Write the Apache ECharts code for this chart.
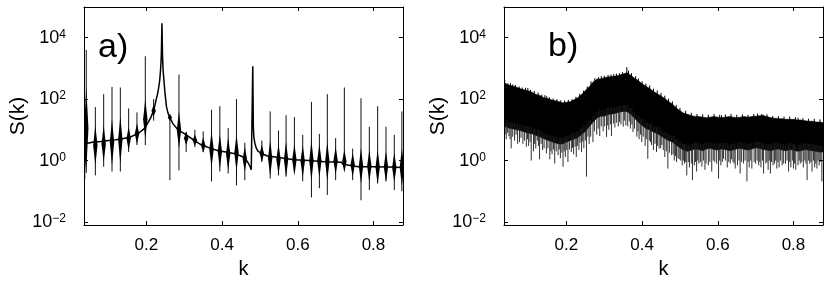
<!DOCTYPE html>
<html>
<head>
<meta charset="utf-8">
<script src="https://cdn.jsdelivr.net/npm/echarts@6/dist/echarts.min.js"></script>
<style>html,body{margin:0;padding:0;background:#fff}#c{width:830px;height:284px}</style>
</head>
<body>
<div id="c"></div>
<script>
// ---------- axes ----------
const kMin = 0.035, kMax = 0.878;
const sMin = 0.0079433, sMax = 100000;
const xTicks = [0.2, 0.4, 0.6, 0.8];
const yTicks = [0.01, 1, 100, 10000];
const panelLabels = ['a)', 'b)'];
const xName = 'k', yName = 'S(k)';

// ---------- panel a: smooth background curve ----------
const aBaseK = [0.035,0.045,0.06,0.08,0.10,0.12,0.14,0.16,0.18,0.195,0.205,0.212,0.218,0.222,0.226,0.229,0.232,0.235,0.237,0.2385,0.2395,0.241,0.2425,0.244,0.246,0.249,0.253,0.257,0.262,0.27,0.28,0.288,0.30,0.31,0.33,0.346,0.37,0.39,0.41,0.434,0.45,0.46,0.465,0.47,0.474,0.477,0.4795,0.481,0.4825,0.484,0.487,0.49,0.495,0.50,0.51,0.52,0.55,0.59,0.63,0.67,0.715,0.719,0.723,0.76,0.80,0.84,0.878];
const aBaseS = [3.5,3.7,4.0,4.2,4.5,4.8,5.2,6.0,7.9,11.2,17.8,26,40,60,100,141,224,398,794,1585,3162,29500,2512,891,447,158,56,35,25,16,11.2,9.3,7.6,6.3,4.2,3.2,2.5,2.1,1.9,1.66,1.41,1.2,1.0,0.79,0.63,0.5,0.48,1175,12.6,5.6,3.5,2.6,2.0,1.78,1.58,1.41,1.26,1.07,1.0,0.91,0.89,0.76,0.66,0.63,0.63,0.62,0.6];

// ---------- panel a: Bragg-like spikes ----------
const aSpikeK      = [0.037,0.041,0.065,0.087,0.109,0.131,0.153,0.175,0.197,0.219,0.262,0.286,0.305,0.328,0.35,0.372,0.394,0.416,0.438,0.46,0.505,0.527,0.549,0.569,0.591,0.613,0.636,0.657,0.678,0.70,0.723,0.745,0.767,0.789,0.811,0.833,0.855,0.875];
const aSpikeTop    = [50,3980,55,145,251,240,50,37,2500,100,32,631,8.5,10,8.9,45,59,11.5,100,3.8,4.5,40,9.5,30,26,6.9,81,7.4,145,5.4,240,2.45,107,12.6,59,12.6,6.9,40];
const aSpikeBottom = [0.25,0.4,0.33,0.63,0.44,0.44,1.9,3.2,3.2,20,0.23,0.48,1.9,2.75,1.9,0.21,0.44,0.38,0.155,0.23,0.91,0.26,0.33,0.3,0.44,0.21,0.063,0.126,0.076,0.23,0.8,0.23,0.051,0.11,0.18,0.21,0.11,0.1];
const aBlobHigh    = [16,251,14,14,22,28,12.6,16,100,63,32,40,8.9,7.1,5.6,8.9,7.1,5.6,7.1,2.8,3.2,4.5,3.5,4.0,3.5,3.2,4.5,3.5,4.0,2.8,2.2,1.78,2.5,2.2,2.2,2.0,1.78,2.5];
const aBlobLow     = [0.4,0.5,0.7,0.9,0.7,0.8,2.2,3.5,5.0,28,20,2.5,3.2,3.0,1.8,0.6,0.55,0.5,0.45,0.45,0.9,0.32,0.35,0.3,0.32,0.28,0.22,0.28,0.22,0.35,0.4,0.3,0.18,0.2,0.17,0.2,0.2,0.15];

// ---------- panel b: noisy band ----------
const bK = [0.035,0.04,0.05,0.06,0.07,0.08,0.09,0.10,0.11,0.12,0.13,0.14,0.15,0.16,0.17,0.18,0.19,0.20,0.21,0.22,0.23,0.24,0.25,0.26,0.27,0.28,0.29,0.30,0.31,0.32,0.33,0.34,0.35,0.36,0.37,0.38,0.39,0.40,0.41,0.42,0.43,0.44,0.45,0.46,0.47,0.48,0.49,0.50,0.51,0.52,0.53,0.54,0.55,0.56,0.57,0.58,0.59,0.60,0.61,0.62,0.63,0.64,0.65,0.66,0.67,0.68,0.69,0.70,0.71,0.72,0.73,0.74,0.75,0.76,0.77,0.78,0.79,0.80,0.81,0.82,0.83,0.84,0.85,0.86,0.87,0.878];
const bUpper = [355,316,282,263,240,214,200,186,166,141,132,112,105,95,89,83,76,79,83,95,112,141,191,251,355,447,457,501,525,550,562,603,661,720,603,479,398,316,263,224,178,151,126,105,83,69,52,42,35,32,29,27.5,27,26,25,26,27,26,25,26,27,26,25,26,27,26,27,28,29,29,27,25,24,23,23,22,22,22,21,21,20,19,19,18,18,17];
const bLower = [13.5,12.6,11.2,10.7,10,9.3,8.5,7.9,7.4,6.6,6.0,5.2,4.6,4.2,3.8,3.5,3.5,4.0,4.5,5.0,5.6,7.1,8.9,12.6,17.8,24,28,28,32,33,35,38,40,40,32,24,18,14,11,10,8.5,7.6,6.3,5.2,4.5,4.0,3.2,2.6,2.2,2.0,2.2,2.4,2.3,2.1,2.4,2.5,2.3,2.2,2.4,2.3,2.1,2.2,2.4,2.5,2.3,2.2,2.4,2.6,2.5,2.3,2.2,2.1,2.3,2.4,2.2,2.1,2.3,2.2,2.0,2.1,2.3,2.2,2.1,2.0,1.9,1.9];
// downward excursions [k, S]
const bDips = [[0.038,7],[0.041,5.0],[0.044,8],[0.048,6.3],[0.051,5],[0.054,2.5],[0.058,6],[0.063,4.5],[0.067,7],[0.071,3.5],[0.076,4.0],[0.08,5.5],[0.085,3.5],[0.089,4.5],[0.094,2.8],[0.097,5],[0.1,3.0],[0.104,4],[0.107,1.0],[0.113,2.0],[0.116,3.5],[0.119,2.5],[0.123,4.5],[0.126,3],[0.129,1.1],[0.133,3.5],[0.137,2.2],[0.141,2.5],[0.147,1.7],[0.151,2.5],[0.156,1.1],[0.159,2],[0.162,1.6],[0.166,2.3],[0.169,0.8],[0.173,2],[0.178,1.5],[0.181,2.3],[0.184,1.2],[0.188,1.8],[0.191,0.63],[0.194,2],[0.197,1.3],[0.201,2.2],[0.204,0.9],[0.208,2.3],[0.213,1.9],[0.216,2.6],[0.219,1.6],[0.223,2.8],[0.226,1.3],[0.229,3],[0.233,2.2],[0.236,3.8],[0.24,1.9],[0.243,4.2],[0.246,2.5],[0.25,4.5],[0.253,0.3],[0.257,6],[0.26,3.5],[0.264,6],[0.27,4.0],[0.274,9],[0.28,7],[0.284,11],[0.288,6.3],[0.292,13],[0.297,9],[0.301,13],[0.306,5.9],[0.309,14],[0.312,10],[0.316,15],[0.319,6.3],[0.324,16],[0.328,12],[0.332,17],[0.337,13],[0.34,18],[0.344,15],[0.35,12.6],[0.353,20],[0.357,14],[0.362,13],[0.366,19],[0.369,11],[0.373,15],[0.376,8.5],[0.38,11],[0.386,6],[0.389,9],[0.392,5],[0.396,7],[0.399,4.0],[0.403,6],[0.408,3],[0.411,5],[0.415,1.15],[0.419,4.5],[0.422,4],[0.425,3.2],[0.43,2.2],[0.434,3.5],[0.438,1.9],[0.441,3],[0.445,2.5],[0.449,2.5],[0.452,3.2],[0.456,2.2],[0.46,1.3],[0.464,2],[0.468,0.55],[0.472,1.8],[0.478,1.5],[0.482,1.6],[0.485,1.0],[0.488,1.4],[0.491,0.9],[0.495,1.2],[0.498,1.1],[0.502,1.0],[0.506,0.7],[0.509,1.0],[0.512,0.8],[0.515,0.9],[0.518,0.33],[0.522,0.9],[0.525,0.6],[0.53,0.8],[0.533,0.23],[0.538,0.7],[0.541,0.9],[0.544,0.44],[0.547,1.0],[0.55,0.8],[0.554,0.9],[0.558,0.63],[0.562,1.0],[0.566,0.5],[0.569,0.8],[0.575,0.7],[0.579,0.9],[0.584,0.44],[0.588,1.0],[0.592,0.9],[0.597,0.8],[0.602,0.26],[0.605,1.0],[0.608,0.7],[0.612,0.9],[0.615,1.15],[0.62,1.0],[0.625,0.6],[0.629,0.9],[0.633,0.8],[0.636,1.1],[0.64,0.9],[0.643,0.8],[0.646,0.55],[0.652,0.7],[0.656,1.0],[0.659,0.38],[0.663,0.9],[0.668,0.8],[0.672,1.0],[0.677,0.21],[0.68,0.9],[0.683,0.6],[0.687,1.0],[0.69,0.55],[0.696,0.9],[0.7,0.8],[0.704,1.0],[0.708,0.7],[0.711,0.9],[0.714,0.6],[0.718,1.0],[0.721,0.38],[0.727,0.8],[0.73,0.9],[0.733,0.5],[0.736,1.0],[0.739,0.38],[0.742,0.9],[0.746,0.7],[0.75,0.8],[0.753,1.0],[0.756,0.55],[0.759,0.9],[0.762,0.6],[0.766,1.0],[0.77,0.7],[0.774,0.8],[0.779,0.8],[0.783,1.0],[0.787,0.44],[0.79,0.9],[0.793,0.6],[0.797,1.0],[0.8,0.55],[0.803,0.8],[0.806,0.5],[0.812,0.7],[0.815,1.0],[0.818,0.8],[0.822,0.9],[0.826,0.6],[0.83,1.0],[0.833,0.8],[0.836,0.23],[0.84,1.0],[0.843,0.8],[0.846,0.9],[0.849,0.44],[0.853,1.0],[0.856,0.6],[0.859,0.8],[0.862,0.55],[0.865,1.0],[0.868,0.7],[0.872,0.9],[0.875,0.21]];
// upward excursions [k, S]
const bPeaks = [[0.037,420],[0.045,330],[0.052,330],[0.058,300],[0.065,290],[0.075,260],[0.083,240],[0.092,235],[0.098,230],[0.105,200],[0.115,185],[0.125,165],[0.135,140],[0.143,135],[0.148,125],[0.155,115],[0.165,105],[0.175,100],[0.185,92],[0.195,90],[0.205,95],[0.215,100],[0.225,120],[0.235,150],[0.245,190],[0.255,260],[0.265,380],[0.275,480],[0.285,520],[0.292,560],[0.3,580],[0.31,620],[0.318,630],[0.325,650],[0.332,680],[0.34,700],[0.348,760],[0.3595,1100],[0.364,850],[0.372,700],[0.383,560],[0.39,470],[0.4,380],[0.41,320],[0.42,280],[0.43,220],[0.44,190],[0.45,160],[0.46,130],[0.47,105],[0.48,85],[0.49,65],[0.5,52],[0.515,42],[0.53,36],[0.545,33],[0.56,32],[0.575,31],[0.59,33],[0.605,31],[0.61,30],[0.62,32],[0.635,33],[0.65,31],[0.665,32],[0.68,31],[0.695,33],[0.705,34],[0.716,33],[0.72,31],[0.73,32],[0.745,28],[0.76,28],[0.775,27],[0.79,27],[0.805,26],[0.812,25],[0.825,24],[0.84,23],[0.855,23],[0.87,22]];

const FONT = '"Liberation Sans", Arial, Helvetica, sans-serif';
const BLACK = '#000';

function nearestIdx(k) {
  let best = 0;
  for (let i = 1; i < bK.length; i++) if (Math.abs(bK[i] - k) < Math.abs(bK[best] - k)) best = i;
  return best;
}

function xAxes(gi) {
  const base = {
    gridIndex: gi, type: 'value', min: kMin, max: kMax,
    axisLine: { show: true, onZero: false, lineStyle: { color: BLACK, width: 1 } },
    axisTick: { show: true, inside: true, length: 4, customValues: xTicks, lineStyle: { color: BLACK } },
    splitLine: { show: false }
  };
  return [
    Object.assign({}, base, {
      position: 'bottom', z: 5,
      axisLabel: { show: true, customValues: xTicks, formatter: v => v.toFixed(1), fontSize: 17, color: BLACK, fontFamily: FONT, margin: 12 },
      name: xName, nameLocation: 'middle', nameGap: 33,
      nameTextStyle: { fontSize: 20, color: BLACK, fontFamily: FONT }
    }),
    Object.assign({}, base, { position: 'top', z: 5, axisLabel: { show: false } })
  ];
}
function yAxes(gi) {
  const base = {
    gridIndex: gi, type: 'log', logBase: 10, min: sMin, max: sMax,
    axisLine: { show: true, onZero: false, lineStyle: { color: BLACK, width: 1 } },
    axisTick: { show: true, inside: true, length: 4, customValues: yTicks, lineStyle: { color: BLACK } },
    minorTick: { show: false },
    splitLine: { show: false }
  };
  return [
    Object.assign({}, base, {
      position: 'left', z: 5,
      axisLabel: {
        show: true, customValues: yTicks, margin: 18,
        formatter: v => {
          const e = Math.round(Math.log10(v));
          return '{b|10}{s|' + (e < 0 ? '\u2212' + (-e) : e) + '}';
        },
        rich: {
          b: { fontSize: 18, fontFamily: FONT, color: BLACK, verticalAlign: 'bottom', lineHeight: 18 },
          s: { fontSize: 12, fontFamily: FONT, color: BLACK, verticalAlign: 'top', lineHeight: 13, padding: [0, 0, 9, 0] }
        }
      },
      name: yName, nameLocation: 'middle', nameGap: 55, nameRotate: 90,
      nameTextStyle: { fontSize: 21, color: BLACK, fontFamily: FONT }
    }),
    Object.assign({}, base, { position: 'right', z: 5, axisLabel: { show: false } })
  ];
}

const chart = echarts.init(document.getElementById('c'), null, { renderer: 'canvas' });
chart.setOption({
  animation: false,
  backgroundColor: '#fff',
  grid: [
    { left: 84, top: 7, width: 319, height: 220 },
    { left: 504, top: 7, width: 319, height: 220 }
  ],
  xAxis: [...xAxes(0), ...xAxes(1)],
  yAxis: [...yAxes(0), ...yAxes(1)],
  graphic: [
    { type: 'text', left: 98, top: 31, style: { text: panelLabels[0], font: '34px ' + FONT, fill: BLACK } },
    { type: 'text', left: 548, top: 30, style: { text: panelLabels[1], font: '34px ' + FONT, fill: BLACK } }
  ],
  series: [
    // panel a blobs + spikes
    {
      type: 'custom', xAxisIndex: 0, yAxisIndex: 0, clip: true,
      data: aSpikeK.map((k, i) => [k, aSpikeTop[i], aSpikeBottom[i], aBlobHigh[i], aBlobLow[i]]),
      renderItem: (params, api) => {
        const k = api.value(0);
        const pT = api.coord([k, api.value(1)]);
        const pB = api.coord([k, api.value(2)]);
        const pH = api.coord([k, api.value(3)]);
        const pL = api.coord([k, api.value(4)]);
        const x = pT[0], ym = (pH[1] + pL[1]) / 2;
        return {
          type: 'group', children: [
            { type: 'line', shape: { x1: x, y1: pT[1], x2: x, y2: pB[1] }, style: { stroke: '#111', lineWidth: 1 } },
            { type: 'polygon', shape: { points: [[x, pH[1]], [x + 2.2, ym], [x, pL[1]], [x - 2.2, ym]] }, style: { fill: BLACK } }
          ]
        };
      }
    },
    {
      type: 'line', xAxisIndex: 0, yAxisIndex: 0,
      data: aBaseK.map((k, i) => [k, aBaseS[i]]),
      showSymbol: false, symbol: 'none',
      lineStyle: { color: BLACK, width: 1.5 }
    },
    // panel b band
    {
      type: 'custom', xAxisIndex: 2, yAxisIndex: 2, clip: true,
      data: [[0.5, 1]],
      renderItem: (params, api) => {
        const pts = [];
        for (let i = 0; i < bK.length; i++) pts.push(api.coord([bK[i], bUpper[i]]));
        for (let i = bK.length - 1; i >= 0; i--) pts.push(api.coord([bK[i], bLower[i]]));
        return { type: 'polygon', shape: { points: pts }, style: { fill: BLACK, stroke: BLACK, lineWidth: 0.6 } };
      }
    },
    {
      type: 'custom', xAxisIndex: 2, yAxisIndex: 2, clip: true,
      data: bDips,
      renderItem: (params, api) => {
        const k = api.value(0);
        const idx = nearestIdx(k);
        const p1 = api.coord([k, bLower[idx] * 1.6]);
        const p2 = api.coord([k, api.value(1)]);
        return { type: 'line', shape: { x1: p1[0], y1: p1[1], x2: p2[0], y2: p2[1] }, style: { stroke: '#1a1a1a', lineWidth: 0.9 } };
      }
    },
    {
      type: 'custom', xAxisIndex: 2, yAxisIndex: 2, clip: true,
      data: bPeaks,
      renderItem: (params, api) => {
        const k = api.value(0);
        const idx = nearestIdx(k);
        const p1 = api.coord([k, bUpper[idx] / 1.6]);
        const p2 = api.coord([k, api.value(1)]);
        return { type: 'line', shape: { x1: p1[0], y1: p1[1], x2: p2[0], y2: p2[1] }, style: { stroke: BLACK, lineWidth: 1 } };
      }
    }
  ]
});
</script>
</body>
</html>
